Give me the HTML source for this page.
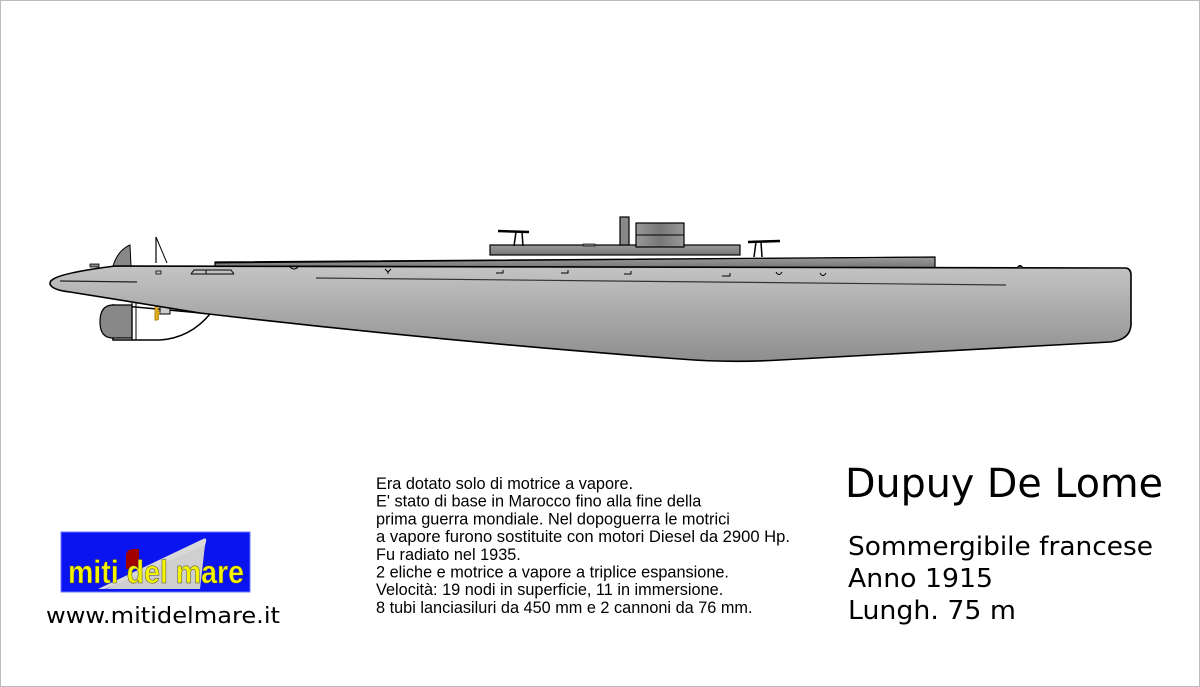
<!DOCTYPE html>
<html><head><meta charset="utf-8"><style>
html,body{margin:0;padding:0;background:#fff;}
svg{display:block;}
</style></head><body>
<svg width="1200" height="687" viewBox="0 0 1200 687" xmlns="http://www.w3.org/2000/svg">
<defs>
<linearGradient id="hull" x1="0" y1="0" x2="0" y2="1">
<stop offset="0" stop-color="#c4c4c4"/><stop offset="1" stop-color="#8e8e8e"/>
</linearGradient>
<linearGradient id="deck" x1="0" y1="0" x2="0" y2="1">
<stop offset="0" stop-color="#9a9a9a"/><stop offset="1" stop-color="#777"/>
</linearGradient>
<linearGradient id="ct" x1="0" y1="0" x2="1" y2="0">
<stop offset="0" stop-color="#999"/><stop offset="0.5" stop-color="#777"/><stop offset="1" stop-color="#999"/>
</linearGradient>
</defs>
<rect x="0.5" y="0.5" width="1199" height="686" fill="#fff" stroke="#bbb"/>
<path d="M113,305 L190,312 L210,314 Q190,338 160,340 L113,340 Z" fill="#fff" stroke="#000" stroke-width="1.5"/>
<path d="M113,305 L132,305 L132,338 L113,338 Q100,338 100,322 Q100,305 113,305 Z" fill="#888" stroke="#000" stroke-width="1.2"/>
<line x1="132" y1="303" x2="132" y2="340" stroke="#000" stroke-width="1.2"/>
<line x1="136" y1="303" x2="136" y2="340" stroke="#000" stroke-width="1"/>
<rect x="160" y="306" width="10" height="8" fill="#ccc" stroke="#000"/>
<path d="M155,305 q4,0 3,6 q4,1 0,4 q2,6 -3,5 z" fill="#e0b020" stroke="#a07000" stroke-width="0.8"/>
<path d="M113,266 Q118,250 130,245 L131,266 Z" fill="#888" stroke="#000" stroke-width="1"/>
<line x1="156" y1="237" x2="156" y2="263" stroke="#000" stroke-width="1.2"/>
<line x1="156" y1="237" x2="167" y2="263" stroke="#000" stroke-width="1"/>
<rect x="90" y="264" width="9" height="3" fill="#888" stroke="#000" stroke-width="0.8"/>
<path d="M215,262 L935,257 L935,268 L215,266 Z" fill="url(#deck)" stroke="#000" stroke-width="1.2"/>
<rect x="490" y="245" width="250" height="10" fill="url(#deck)" stroke="#000" stroke-width="1.2"/>
<rect x="620" y="217" width="9" height="28" fill="#888" stroke="#000" stroke-width="1.2"/>
<rect x="636" y="223" width="48" height="24" fill="url(#ct)" stroke="#000" stroke-width="1.2"/>
<line x1="636" y1="235" x2="684" y2="235" stroke="#000" stroke-width="1"/>
<rect x="583" y="244" width="12" height="2" fill="#888" stroke="#000" stroke-width="0.7"/>
<line x1="498" y1="231" x2="529" y2="232" stroke="#000" stroke-width="2.5"/>
<path d="M516,232 L514,246 M522,232 L523,246" stroke="#000" stroke-width="1.5"/>
<line x1="748" y1="242" x2="780" y2="241" stroke="#000" stroke-width="2.5"/>
<path d="M756,242 L754,257 M761,242 L762,257" stroke="#000" stroke-width="1.5"/>
<path d="M52,280 Q60,273 115,266 L1126,268 Q1131,269 1131,275 L1131,325 Q1130,340 1110,342 L780,360 Q730,363 680,359 Q450,342 200,313 L70,292 Q52,290 50,284 Q50,281 52,280 Z" fill="url(#hull)" stroke="#000" stroke-width="1.6"/>
<line x1="215" y1="263" x2="935" y2="257" stroke="#000" stroke-width="1"/>
<line x1="60" y1="281" x2="137" y2="282" stroke="#222" stroke-width="1.2"/>
<line x1="316" y1="278" x2="1006" y2="285" stroke="#333" stroke-width="1.2"/>
<path d="M156,271 h5 v3 h-5 z" fill="none" stroke="#000" stroke-width="0.8"/>
<path d="M191,274 L194,270 L231,270 L234,274 M206,270 v4 M191,274 h43" fill="none" stroke="#000" stroke-width="1"/>
<path d="M290,267 q4,4 8,0" fill="none" stroke="#000" stroke-width="1"/>
<path d="M385,269 l3,3 l3,-3 M388,272 v2" fill="none" stroke="#000" stroke-width="1"/>
<g fill="none" stroke="#000" stroke-width="1">
<path d="M496,273 h7 v-3"/><path d="M561,273 h7 v-3"/><path d="M624,274 h7 v-3"/><path d="M722,276 h8 v-3"/>
<path d="M776,272 q3,5 6,0"/><path d="M820,273 q3,5 6,0"/>
</g>
<path d="M1017,268 q3,-5 6,0" fill="#333" stroke="#000" stroke-width="1"/>
<g font-family="Liberation Sans, Arial, sans-serif" font-size="16.3" fill="#000">
<text x="376" y="489">Era dotato solo di motrice a vapore.</text>
<text x="376" y="506.7">E' stato di base in Marocco fino alla fine della</text>
<text x="376" y="524.4">prima guerra mondiale. Nel dopoguerra le motrici</text>
<text x="376" y="542.1" textLength="414" lengthAdjust="spacingAndGlyphs">a vapore furono sostituite con motori Diesel da 2900 Hp.</text>
<text x="376" y="559.8">Fu radiato nel 1935.</text>
<text x="376" y="577.5">2 eliche e motrice a vapore a triplice espansione.</text>
<text x="376" y="595.2">Velocità: 19 nodi in superficie, 11 in immersione.</text>
<text x="376" y="612.9">8 tubi lanciasiluri da 450 mm e 2 cannoni da 76 mm.</text>
</g>
<g font-family="DejaVu Sans, sans-serif" fill="#000">
<text x="845" y="497" font-size="40" textLength="318" lengthAdjust="spacingAndGlyphs">Dupuy De Lome</text>
<text x="848" y="555" font-size="26" textLength="305" lengthAdjust="spacingAndGlyphs">Sommergibile francese</text>
<text x="848" y="587" font-size="26" textLength="145" lengthAdjust="spacingAndGlyphs">Anno 1915</text>
<text x="848" y="619" font-size="26" textLength="168" lengthAdjust="spacingAndGlyphs">Lungh. 75 m</text>
<text x="46" y="623" font-size="22" textLength="234" lengthAdjust="spacingAndGlyphs">www.mitidelmare.it</text>
</g>
<rect x="61" y="532" width="189" height="60" fill="#0a14f0" stroke="#6a7aff" stroke-width="1"/>
<path d="M105,589 L203,552 L206,542 Q207,537 203,539 L98,589 Z" fill="#d8d8d8"/>
<path d="M106,589 L205,545 L200,589 Z" fill="#cfcfcf"/>
<path d="M126,556 q0,-7 8,-7 h5 v20 h-13 z" fill="#a00000"/>
<text x="68" y="583" font-family="Liberation Sans, Arial, sans-serif" font-weight="bold" font-size="32" fill="#f4f400" stroke="#444" stroke-width="0.5" textLength="176" lengthAdjust="spacingAndGlyphs">miti del mare</text>
</svg>
</body></html>
